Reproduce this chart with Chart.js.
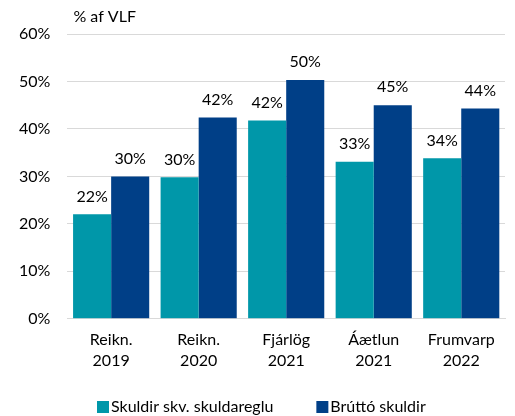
<!DOCTYPE html>
<html>
<head>
<meta charset="utf-8">
<script src="https://cdn.jsdelivr.net/npm/chart.js@4"></script>
<style>
  html, body { margin: 0; padding: 0; background: #fff; }
  #wrap { width: 515px; height: 416px; }
</style>
</head>
<body>
<div id="wrap"><canvas id="skuldir" width="515" height="416"></canvas></div>
<script>
// Data
const categories = [['Reikn.', '2019'], ['Reikn.', '2020'], ['Fjárlög', '2021'], ['Áætlun', '2021'], ['Frumvarp', '2022']];
const skuldaregla = [22.0, 29.8, 41.8, 33.1, 33.8];
const bruttoSkuldir = [30.0, 42.4, 50.3, 45.0, 44.3];
const seriesNames = ['Skuldir skv. skuldareglu', 'Brúttó skuldir'];
const seriesColors = ['#0097a9', '#003f87'];
const yTicks = [0, 10, 20, 30, 40, 50, 60];

const FONT = 'Lato, "Open Sans", sans-serif';
const SIZE = 16;

// Draws value labels, unit label and legend
const extras = {
    id: 'extras',
    afterDatasetsDraw(chart) {
        const ctx = chart.ctx;
        ctx.save();
        ctx.fillStyle = '#000';
        ctx.font = SIZE + 'px ' + FONT;
        ctx.textAlign = 'center';
        ctx.textBaseline = 'bottom';
        chart.data.datasets.forEach((ds, i) => {
            chart.getDatasetMeta(i).data.forEach((bar, j) => {
                ctx.fillText(Math.round(ds.data[j]) + '%', bar.x, bar.y - 10);
            });
        });

        // unit label
        const area = chart.chartArea;
        ctx.textAlign = 'left';
        ctx.textBaseline = 'middle';
        ctx.fillText('% af VLF', area.left + 6, 17);

        // legend
        const legendY = 407;
        let x = 97;
        chart.data.datasets.forEach((ds, i) => {
            ctx.fillStyle = ds.backgroundColor;
            ctx.fillRect(x, legendY - 6, 12, 12);
            ctx.fillStyle = '#000';
            ctx.fillText(ds.label, x + 14, legendY);
            x += 14 + ctx.measureText(ds.label).width + 43;
        });
        ctx.restore();
    }
};

new Chart(document.getElementById('skuldir').getContext('2d'), {
    type: 'bar',
    data: {
        labels: categories,
        datasets: [{
            label: seriesNames[0],
            data: skuldaregla,
            backgroundColor: seriesColors[0],
            categoryPercentage: 0.87,
            barPercentage: 1
        },
        {
            label: seriesNames[1],
            data: bruttoSkuldir,
            backgroundColor: seriesColors[1],
            categoryPercentage: 0.87,
            barPercentage: 1
        }]
    },
    options: {
        responsive: false,
        animation: false,
        layout: {
            padding: { left: 2, right: 10, top: 34, bottom: 42 }
        },
        plugins: {
            legend: { display: false },
            tooltip: { enabled: false }
        },
        scales: {
            x: {
                grid: { display: false },
                border: { color: '#d9d9d9', width: 1 },
                ticks: {
                    color: '#000',
                    font: { family: FONT, size: SIZE, lineHeight: 1.35 },
                    padding: 2
                }
            },
            y: {
                min: 0,
                max: 60,
                afterBuildTicks: axis => {
                    axis.ticks = yTicks.map(v => ({ value: v }));
                },
                grid: { color: '#d9d9d9', lineWidth: 1, drawTicks: false },
                border: { display: false },
                ticks: {
                    color: '#000',
                    font: { family: FONT, size: SIZE },
                    padding: 17,
                    callback: v => v + '%'
                }
            }
        }
    },
    plugins: [extras]
});
</script>
</body>
</html>
